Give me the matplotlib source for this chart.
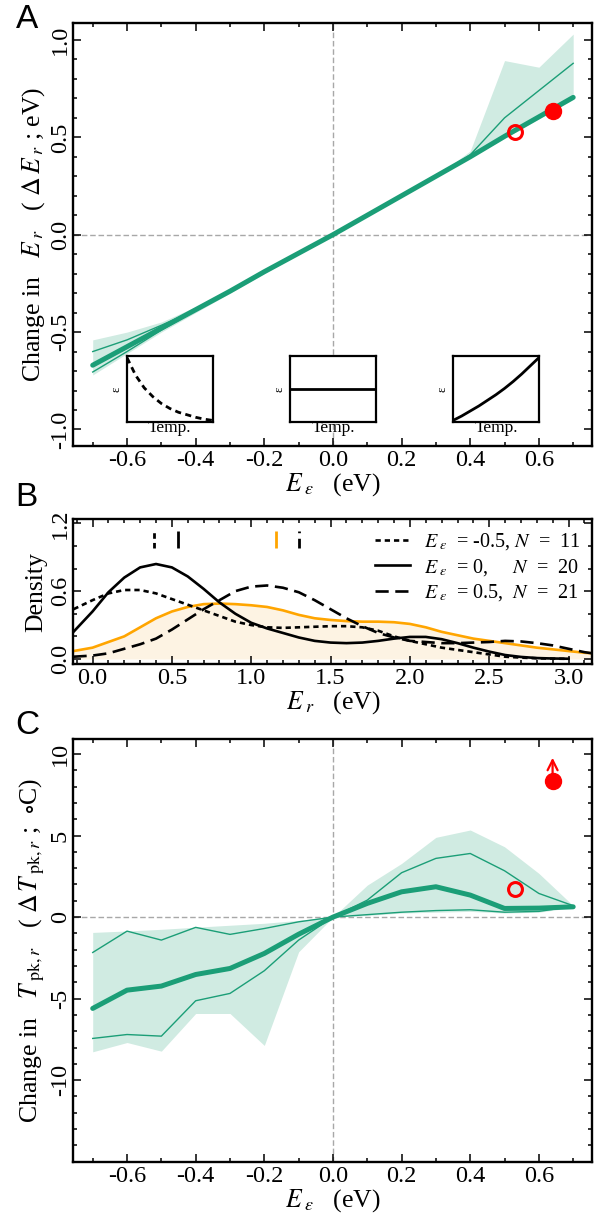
import matplotlib
matplotlib.use("Agg")
import matplotlib.pyplot as plt
from matplotlib.ticker import MultipleLocator

plt.rcParams["font.family"] = ["Liberation Serif", "DejaVu Serif"]
plt.rcParams["mathtext.fontset"] = "stix"
plt.rcParams["axes.unicode_minus"] = False

GREEN = "#1b9e77"
BAND = "#d0ebe2"
ORANGE = "#ffa500"
ORANGE_FILL = "#fdf3e3"
RED = "#ff0000"

# ---- panel A: change in E_r vs E_eps ----
e_eps = [-0.7, -0.6, -0.5, -0.4, -0.3, -0.2, -0.1, 0.0, 0.1, 0.2, 0.3, 0.4, 0.5, 0.6, 0.7]
a_median = [-0.67, -0.575, -0.48, -0.385, -0.29, -0.19, -0.095, 0.0, 0.10, 0.20, 0.30, 0.40, 0.505, 0.605, 0.705]
a_upper = [-0.60, -0.54, -0.465, -0.385, -0.29, -0.19, -0.095, 0.0, 0.10, 0.20, 0.30, 0.41, 0.60, 0.74, 0.88]
a_lower = [-0.705, -0.60, -0.49, -0.39, -0.29, -0.19, -0.095, 0.0, 0.10, 0.20, 0.30, 0.40, 0.50, 0.60, 0.70]
a_band_hi = [-0.54, -0.50, -0.448, -0.37, -0.28, -0.18, -0.09, 0.0, 0.10, 0.20, 0.30, 0.43, 0.894, 0.86, 1.03]
a_band_lo = [-0.72, -0.61, -0.50, -0.40, -0.30, -0.20, -0.10, 0.0, 0.095, 0.195, 0.295, 0.395, 0.495, 0.595, 0.695]
a_obs_open = (0.53, 0.526)
a_obs_fill = (0.64, 0.635)

# inset sketches (epsilon vs temperature)
temp = [0.0, 0.1, 0.2, 0.3, 0.4, 0.5, 0.6, 0.7, 0.8, 0.9, 1.0]
eps_down = [1.0, 0.72, 0.52, 0.38, 0.27, 0.19, 0.13, 0.09, 0.05, 0.02, 0.0]
eps_flat = [0.5, 0.5, 0.5, 0.5, 0.5, 0.5, 0.5, 0.5, 0.5, 0.5, 0.5]
eps_up = [0.0, 0.07, 0.15, 0.23, 0.32, 0.41, 0.51, 0.62, 0.74, 0.87, 1.0]

# ---- panel B: density of E_r ----
b_x_solid = [-0.12, 0.0, 0.1, 0.2, 0.3, 0.4, 0.5, 0.6, 0.7, 0.8, 0.9, 1.0, 1.1, 1.2, 1.3, 1.4,
             1.5, 1.6, 1.7, 1.8, 1.9, 2.0, 2.1, 2.2, 2.3, 2.4, 2.5, 2.6, 2.7, 2.8, 2.9, 3.0]
b_solid = [0.24, 0.42, 0.59, 0.72, 0.81, 0.84, 0.81, 0.73, 0.62, 0.50, 0.40, 0.32, 0.27, 0.23, 0.19, 0.16,
           0.145, 0.14, 0.145, 0.16, 0.18, 0.195, 0.195, 0.175, 0.14, 0.10, 0.065, 0.035, 0.018, 0.008, 0.004, 0.002]
b_dotted = [0.44, 0.52, 0.58, 0.61, 0.61, 0.58, 0.53, 0.48, 0.43, 0.38, 0.33, 0.30, 0.28, 0.275, 0.28, 0.285,
            0.29, 0.29, 0.28, 0.25, 0.20, 0.16, 0.13, 0.10, 0.08, 0.06, 0.04, 0.02, 0.012, 0.006, 0.003, 0.001]
b_x_long = b_x_solid + [3.1, 3.15]
b_dashed = [0.02, 0.03, 0.05, 0.09, 0.13, 0.18, 0.26, 0.35, 0.44, 0.52, 0.60, 0.64, 0.65, 0.63, 0.59, 0.52,
            0.44, 0.36, 0.29, 0.23, 0.19, 0.16, 0.15, 0.14, 0.14, 0.145, 0.15, 0.16, 0.155, 0.14, 0.12, 0.09, 0.06, 0.05]
b_orange = [0.07, 0.10, 0.15, 0.20, 0.28, 0.36, 0.42, 0.46, 0.485, 0.49, 0.485, 0.475, 0.46, 0.43, 0.39, 0.36,
            0.345, 0.335, 0.33, 0.33, 0.325, 0.31, 0.28, 0.24, 0.21, 0.18, 0.16, 0.14, 0.12, 0.10, 0.085, 0.07, 0.055, 0.05]
b_means = [0.39, 0.54, 1.155, 1.30]
b_labels = [r"$E_{\;\varepsilon}$  = -0.5, $N$  =  11",
            r"$E_{\;\varepsilon}$  = 0,     $N$  =  20",
            r"$E_{\;\varepsilon}$  = 0.5,  $N$  =  21"]

# ---- panel C: change in T_pk,r vs E_eps ----
c_median = [-5.6, -4.48, -4.23, -3.52, -3.15, -2.23, -1.05, 0.0, 0.84, 1.55, 1.86, 1.35, 0.53, 0.55, 0.63]
c_upper = [-2.17, -0.86, -1.41, -0.63, -1.06, -0.70, -0.29, 0.0, 1.04, 2.72, 3.6, 3.9, 2.84, 1.45, 0.7]
c_lower = [-7.44, -7.2, -7.3, -5.13, -4.68, -3.29, -1.41, 0.0, 0.15, 0.3, 0.4, 0.45, 0.3, 0.35, 0.65]
c_band_hi = [-0.94, -0.85, -0.75, -0.62, -0.5, -0.38, -0.2, 0.0, 1.96, 3.29, 4.89, 5.34, 4.31, 2.68, 0.7]
c_band_lo = [-8.26, -7.69, -8.22, -5.91, -5.91, -7.87, -2.13, 0.0, 0.1, 0.25, 0.3, 0.35, 0.25, 0.3, 0.6]
c_obs_open = (0.53, 1.7)
c_obs_fill = (0.64, 8.34)
c_arrow_top = 9.94

TICK = 17.5
LAB = 18.5

fig = plt.figure(figsize=(5.97, 12.18), dpi=100)
ax_a = fig.add_axes([0.1231, 0.6338, 0.8692, 0.3470])
ax_b = fig.add_axes([0.1231, 0.4548, 0.8692, 0.1188])
ax_c = fig.add_axes([0.1231, 0.0462, 0.8692, 0.3468])


def style_axes(ax):
    for s in ax.spines.values():
        s.set_linewidth(1.7)
    ax.tick_params(which="both", direction="in", top=True, right=True, labelsize=TICK, width=1.1)
    ax.tick_params(which="major", length=6, pad=3)
    ax.tick_params(which="minor", length=3)
    ax.tick_params(axis="y", labelrotation=90, pad=2)
    for lab in ax.get_yticklabels():
        lab.set_va("center")


def green_panel(ax, med, up, lo, hi, low):
    ax.axvline(0, color="#a8a8a8", lw=1.0, ls=(0, (4, 2)), zorder=1)
    ax.axhline(0, color="#a8a8a8", lw=1.0, ls=(0, (4, 2)), zorder=1)
    ax.fill_between(e_eps, low, hi, color=BAND, lw=0, zorder=2)
    ax.plot(e_eps, up, color=GREEN, lw=1.0, zorder=3)
    ax.plot(e_eps, lo, color=GREEN, lw=1.0, zorder=3)
    ax.plot(e_eps, med, color=GREEN, lw=3.6, solid_capstyle="round", zorder=4)
    ax.set_xlim(-0.756, 0.756)
    ax.xaxis.set_minor_locator(MultipleLocator(0.1))
    ax.set_xticks([-0.6, -0.4, -0.2, 0.0, 0.2, 0.4, 0.6])
    ax.set_xticklabels(["-0.6", "-0.4", "-0.2", "0.0", "0.2", "0.4", "0.6"])
    ax.set_xlabel(r"$E_{\;\varepsilon}$   (eV)", fontsize=LAB, labelpad=0)


# panel A
green_panel(ax_a, a_median, a_upper, a_lower, a_band_hi, a_band_lo)
ax_a.plot(*a_obs_fill, "o", color=RED, ms=11.5, zorder=6)
ax_a.plot(*a_obs_open, "o", mfc="none", mec=RED, mew=2.2, ms=10, zorder=6)
ax_a.set_ylim(-1.085, 1.085)
ax_a.set_yticks([-1.0, -0.5, 0.0, 0.5, 1.0])
ax_a.set_yticklabels(["-1.0", "-0.5", "0.0", "0.5", "1.0"])
ax_a.yaxis.set_minor_locator(MultipleLocator(0.1))
ax_a.set_ylabel(r"Change in   $E_{\;r}$   ( $\Delta\, E_{\;r}$ ; eV)", fontsize=LAB, labelpad=2)
style_axes(ax_a)

insets = [(-0.6, eps_down, (0, (2.2, 1.6))), (-0.125, eps_flat, "-"), (0.35, eps_up, "-")]
for x0, eps, ls in insets:
    ins = ax_a.inset_axes([x0, -0.96, 0.25, 0.335], transform=ax_a.transData, zorder=7)
    ins.plot(temp, eps, color="black", lw=2.0, ls=ls)
    ins.set_xlim(0, 1)
    ins.set_ylim(-0.02, 1.02)
    ins.set_xticks([])
    ins.set_yticks([])
    for s in ins.spines.values():
        s.set_linewidth(1.6)
    ins.set_xlabel("Temp.", fontsize=12.5, labelpad=-1)
    ins.set_ylabel("ε", fontsize=9, labelpad=3)

# panel B
ax_b.fill_between(b_x_long, 0, b_orange, color=ORANGE_FILL, lw=0, zorder=1)
ax_b.plot(b_x_long, b_orange, color=ORANGE, lw=1.9, zorder=2)
l1, = ax_b.plot(b_x_solid, b_dotted, color="black", lw=1.9, ls=(0, (2, 1.5)), zorder=3)
l2, = ax_b.plot(b_x_solid, b_solid, color="black", lw=1.9, zorder=3)
l3, = ax_b.plot(b_x_long, b_dashed, color="black", lw=1.9, ls=(0, (5, 2.5)), zorder=3)
mean_styles = [("black", (0, (2, 1.5))), ("black", "-"), (ORANGE, "-"), ("black", (0, (3.5, 2)))]
for m, (c, ls) in zip(b_means, mean_styles):
    ax_b.vlines(m, 0.98, 1.13, colors=c, linestyles=[ls], lw=2.0, zorder=3)
ax_b.set_xlim(-0.12, 3.15)
ax_b.set_ylim(-0.045, 1.235)
ax_b.set_xticks([0.0, 0.5, 1.0, 1.5, 2.0, 2.5, 3.0])
ax_b.set_xticklabels(["0.0", "0.5", "1.0", "1.5", "2.0", "2.5", "3.0"])
ax_b.xaxis.set_minor_locator(MultipleLocator(0.1))
ax_b.set_yticks([0.0, 0.6, 1.2])
ax_b.set_yticklabels(["0.0", "0.6", "1.2"])
ax_b.yaxis.set_minor_locator(MultipleLocator(0.2))
ax_b.set_xlabel(r"$E_{\;r}$   (eV)", fontsize=LAB, labelpad=0)
ax_b.set_ylabel("Density", fontsize=LAB, labelpad=2)
ax_b.legend([l1, l2, l3], b_labels, loc="upper right", frameon=False, fontsize=14.5,
            handlelength=1.7, handletextpad=0.7, labelspacing=0.22,
            borderaxespad=0.15, borderpad=0.45)
style_axes(ax_b)

# panel C
green_panel(ax_c, c_median, c_upper, c_lower, c_band_hi, c_band_lo)
ax_c.plot(*c_obs_fill, "o", color=RED, ms=11.5, zorder=6)
ax_c.plot(*c_obs_open, "o", mfc="none", mec=RED, mew=2.2, ms=10, zorder=6)
ax_c.annotate("", xy=(c_obs_fill[0], c_arrow_top), xytext=c_obs_fill,
              arrowprops=dict(arrowstyle="->", color=RED, lw=1.6, mutation_scale=18), zorder=6)
ax_c.set_ylim(-15.0, 10.9)
ax_c.set_yticks([-10, -5, 0, 5, 10])
ax_c.set_yticklabels(["-10", "-5", "0", "5", "10"])
ax_c.yaxis.set_minor_locator(MultipleLocator(1))
ax_c.set_ylabel(r"Change in   $T_{\;\mathrm{pk},r}$   ( $\Delta\, T_{\;\mathrm{pk},r}$ ;  $\circ$C)",
                fontsize=LAB, labelpad=2)
style_axes(ax_c)

for letter, y in [("A", 1 - 20 / 1218), ("B", 1 - 497 / 1218), ("C", 1 - 725 / 1218)]:
    fig.text(0.045, y, letter, fontsize=24, family="Liberation Sans", ha="center", va="center")

fig.savefig("out.png", dpi=100)
